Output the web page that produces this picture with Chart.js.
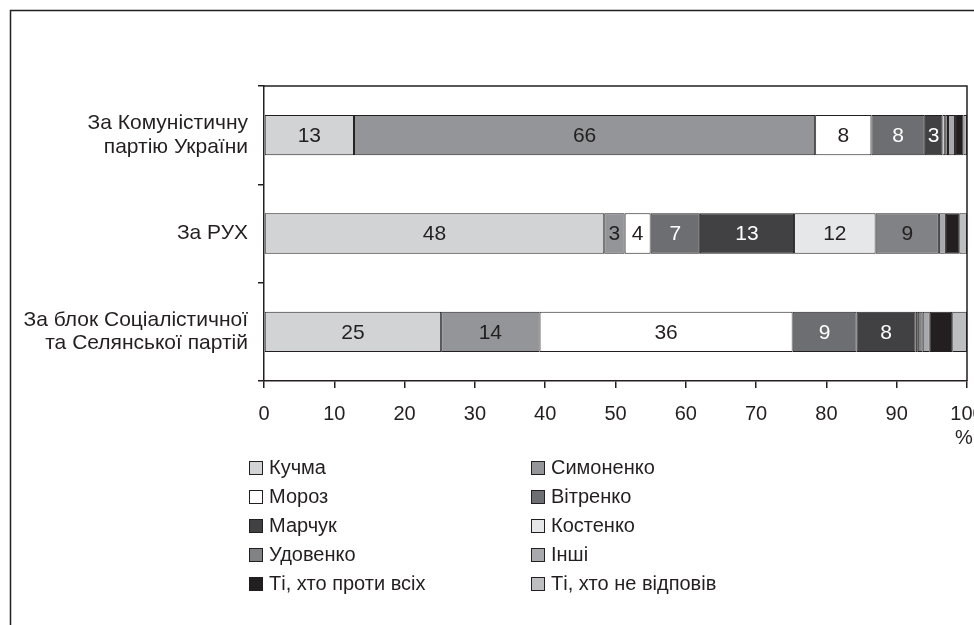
<!DOCTYPE html>
<html>
<head>
<meta charset="utf-8">
<script src="https://cdn.jsdelivr.net/npm/chart.js@4.4.0/dist/chart.umd.min.js"></script>
<style>
  body { margin: 0; background: #fff; }
  #wrap { position: relative; width: 974px; height: 625px; overflow: hidden; }
  #chart { position: absolute; left: 0; top: 0; }
  #legend {
    position: absolute; left: 249px; top: 453px;
    display: grid; grid-template-columns: 282px 240px; grid-auto-rows: 29px;
    font-family: "Liberation Sans", Arial, sans-serif; font-size: 20px; color: #231f20;
  }
  #legend div { display: flex; align-items: center; white-space: nowrap; }
  #legend span.box {
    display: inline-block; width: 12px; height: 12px; border: 1px solid #231f20;
    margin-right: 6px;
  }
</style>
</head>
<body>
<div id="wrap">
  <canvas id="chart" width="974" height="625"></canvas>
  <div id="legend"></div>
</div>
<script>
// categories (top to bottom)
categories = [
  ['За Комуністичну', 'партію України'],
  'За РУХ',
  ['За блок Соціалістичної', 'та Селянської партій']
];

seriesNames = ['Кучма', 'Симоненко', 'Мороз', 'Вітренко', 'Марчук', 'Костенко',
  'Удовенко', 'Інші', 'Ті, хто проти всіх', 'Ті, хто не відповів'];

// values per series, in category order (%)
kuchma    = [12.8, 48.4, 25.2];
symonenko = [65.6, 2.9, 14.0];
moroz     = [8.0, 3.7, 36.0];
vitrenko  = [7.6, 7.0, 9.1];
marchuk   = [2.5, 13.4, 8.4];
kostenko  = [0.4, 11.6, 0.3];
udovenko  = [0.4, 9.0, 0.7];
inshi     = [1.0, 1.0, 1.0];
protyVsih = [1.2, 1.9, 3.2];
neVidpoviv = [0.5, 1.1, 2.1];

xTicks = [0, 10, 20, 30, 40, 50, 60, 70, 80, 90, 100];

seriesValues = [kuchma, symonenko, moroz, vitrenko, marchuk, kostenko, udovenko, inshi, protyVsih, neVidpoviv];
fills = ['#d1d3d4', '#939598', '#ffffff', '#6d6e71', '#414042', '#e6e7e8', '#808285', '#a7a9ac', '#231f20', '#bcbec0'];
textColors = ['#231f20', '#231f20', '#231f20', '#ffffff', '#ffffff', '#231f20', '#231f20'];

var ink = '#231f20';
var font = '"Liberation Sans", Arial, sans-serif';

datasets = [];
for (var i = 0; i < seriesNames.length; i++) {
  datasets.push({
    label: seriesNames[i],
    data: seriesValues[i],
    backgroundColor: fills[i],
    borderColor: ink,
    borderWidth: 1,
    borderSkipped: false,
    categoryPercentage: 1,
    barPercentage: 0.41
  });
}

// legend, two columns
var leg = document.getElementById('legend');
seriesNames.forEach(function(n, i) {
  var d = document.createElement('div');
  d.innerHTML = '<span class="box" style="background:' + fills[i] + '"></span>' + n;
  leg.appendChild(d);
});

var framePlugin = {
  id: 'frame',
  beforeDraw: function(chart) {
    var c = chart.ctx;
    c.save();
    c.strokeStyle = ink;
    c.lineWidth = 1.5;
    c.beginPath();
    c.moveTo(10.5, 625);
    c.lineTo(10.5, 10.5);
    c.lineTo(974, 10.5);
    c.stroke();
    c.restore();
  },
  afterDraw: function(chart) {
    var a = chart.chartArea, c = chart.ctx;
    c.save();
    c.strokeStyle = ink;
    c.lineWidth = 1.5;
    c.beginPath();
    c.moveTo(a.left, a.top);
    c.lineTo(a.right, a.top);
    c.lineTo(a.right, a.bottom);
    c.stroke();
    // % under the last tick
    var xs = chart.scales.x;
    c.fillStyle = ink;
    c.font = '20px ' + font;
    c.textAlign = 'center';
    c.textBaseline = 'middle';
    c.fillText('%', xs.getPixelForValue(100) - 3, a.bottom + 57);
    c.restore();
  }
};

var labelPlugin = {
  id: 'segLabels',
  afterDatasetsDraw: function(chart) {
    var c = chart.ctx;
    c.save();
    c.font = '21px ' + font;
    c.textAlign = 'center';
    c.textBaseline = 'middle';
    chart.data.datasets.forEach(function(ds, di) {
      if (di >= textColors.length) return;
      chart.getDatasetMeta(di).data.forEach(function(el, j) {
        var v = ds.data[j];
        if (v < 2) return;
        c.fillStyle = textColors[di];
        c.fillText(String(Math.round(v)), (el.x + el.base) / 2, el.y + 1);
      });
    });
    c.restore();
  }
};

var ctx = document.getElementById('chart').getContext('2d');
var chart = new Chart(ctx, {
  type: 'bar',
  data: { labels: categories, datasets: datasets },
  plugins: [framePlugin, labelPlugin],
  options: {
    responsive: false,
    animation: false,
    indexAxis: 'y',
    layout: { padding: { top: 86, right: 7, bottom: 0, left: 0 } },
    plugins: { legend: { display: false }, tooltip: { enabled: false } },
    scales: {
      x: {
        stacked: true,
        min: 0, max: 100,
        afterBuildTicks: function(s) { s.ticks = xTicks.map(function(v) { return { value: v }; }); },
        afterFit: function(s) { s.height = 244; s.paddingLeft = 0; s.paddingRight = 0; },
        grid: { drawOnChartArea: false, tickLength: 7, color: ink, lineWidth: 1.5 },
        border: { color: ink, width: 1.5 },
        ticks: { color: ink, font: { family: font, size: 20 }, padding: 14, maxRotation: 0 }
      },
      y: {
        stacked: true,
        afterFit: function(s) { s.width = 264; s.paddingTop = 0; s.paddingBottom = 0; },
        grid: { drawOnChartArea: false, tickLength: 6, color: ink, lineWidth: 1.5, offset: true },
        border: { color: ink, width: 1.5 },
        ticks: { color: ink, font: { family: font, size: 21, lineHeight: 1.1 }, padding: 10 }
      }
    }
  }
});
</script>
</body>
</html>
